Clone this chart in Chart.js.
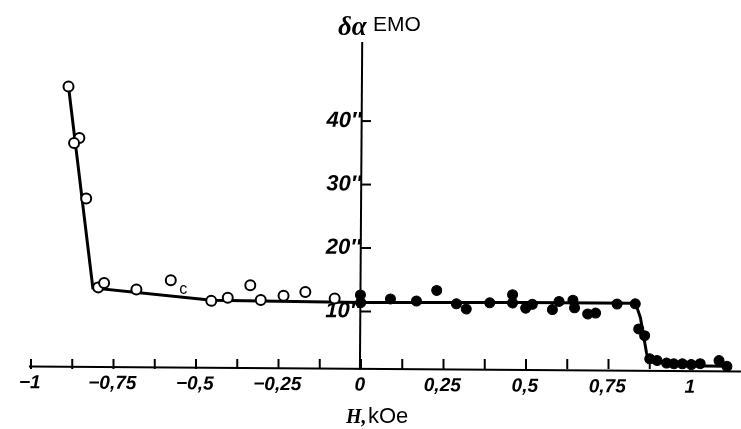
<!DOCTYPE html>
<html>
<head>
<meta charset="utf-8">
<script src="https://cdn.jsdelivr.net/npm/chart.js@4.4.1/dist/chart.umd.min.js"></script>
<style>
  html, body { margin: 0; padding: 0; background: #fff; overflow: hidden; }
  #wrap { width: 741px; height: 429px; }
</style>
</head>
<body>
<div id="wrap"><canvas id="emoChart" width="741" height="429"></canvas></div>
<script>
// open circles (negative field side)
const openH = [-0.889, -0.855, -0.871, -0.833, -0.795, -0.777, -0.679, -0.575, -0.452, -0.402, -0.334, -0.302, -0.233, -0.167, -0.078];
const openDelta = [45.1, 37.0, 36.2, 27.5, 13.5, 14.2, 13.2, 14.7, 11.5, 12.0, 14.0, 11.7, 12.4, 13.0, 12.0];

// filled circles (positive field side)
const filledH = [0.0, 0.001, 0.091, 0.170, 0.231, 0.291, 0.321, 0.392, 0.461, 0.461, 0.501, 0.521, 0.582, 0.602, 0.644, 0.649, 0.689, 0.713, 0.778, 0.833, 0.844, 0.862, 0.878, 0.900, 0.929, 0.951, 0.977, 1.004, 1.031, 1.088, 1.112];
const filledDelta = [12.6, 11.4, 12.0, 11.7, 13.4, 11.3, 10.5, 11.5, 12.8, 11.5, 10.7, 11.3, 10.5, 11.8, 12.0, 10.8, 9.85, 10.0, 11.45, 11.5, 7.55, 6.5, 2.85, 2.6, 2.2, 2.1, 2.1, 2.0, 2.15, 2.65, 1.75];

// drawn curve
const curveH = [-0.889, -0.811, -0.45, 0, 0.5, 0.83, 0.837, 0.849, 0.859, 0.868, 0.874, 0.908, 0.989, 1.11];
const curveDelta = [45.1, 13.4, 11.6, 11.4, 11.6, 11.6, 11.1, 9.3, 6.4, 3.8, 2.7, 2.5, 1.8, 1.75];

// axis ticks
const hTicks = [-1, -0.75, -0.5, -0.25, 0, 0.25, 0.5, 0.75, 1];
const hTickMarks = [-1, -0.875, -0.75, -0.625, -0.5, -0.375, -0.25, -0.125, 0, 0.125, 0.25, 0.375, 0.5, 0.625, 0.75, 0.875, 1];
const deltaTicks = [10, 20, 30, 40];

const toXY = (xs, ys) => xs.map((v, i) => ({ x: v, y: ys[i] }));

const xTickFont = { family: '"Liberation Sans", Arial, sans-serif', size: 19, style: 'italic', weight: 'bold' };
const yTickFont = { family: '"Liberation Sans", Arial, sans-serif', size: 22, style: 'italic', weight: 'bold' };

// the scanned figure is tilted a little, turn the whole drawing with it
const tilt = {
  id: 'tilt',
  beforeDraw(chart) {
    const { ctx, width, height } = chart;
    ctx.save();
    ctx.translate(width / 2, height / 2);
    ctx.rotate(0.4 * Math.PI / 180);
    ctx.translate(-width / 2, -height / 2);
  },
  afterDraw(chart) {
    chart.ctx.restore();
  }
};

// tick marks go inwards (up / right), plus the free-standing labels
const decor = {
  id: 'decor',
  afterDraw(chart) {
    const { ctx, scales: { x, y } } = chart;
    const yAxis = chart.chartArea.bottom;
    const x0 = x.getPixelForValue(0);
    ctx.save();
    ctx.strokeStyle = '#000';
    ctx.lineWidth = 2;
    hTickMarks.forEach(v => {
      const px = x.getPixelForValue(v);
      ctx.beginPath();
      ctx.moveTo(px, yAxis);
      ctx.lineTo(px, yAxis - 10);
      ctx.stroke();
    });
    deltaTicks.forEach(v => {
      const py = y.getPixelForValue(v);
      ctx.beginPath();
      ctx.moveTo(x0, py);
      ctx.lineTo(x0 + 10, py);
      ctx.stroke();
    });

    ctx.fillStyle = '#000';
    ctx.textBaseline = 'alphabetic';
    ctx.textAlign = 'left';
    // y axis title
    ctx.font = 'italic bold 27px "Liberation Serif", serif';
    ctx.fillText('δα', x0 - 23, 35);
    ctx.font = '21px "Liberation Sans", Arial, sans-serif';
    ctx.fillText('EMO', x0 + 12, 31);
    // x axis title
    ctx.font = 'italic bold 20px "Liberation Serif", serif';
    ctx.fillText('H,', x0 - 15, 423);
    ctx.font = '22px "Liberation Sans", Arial, sans-serif';
    ctx.fillText('kOe', x0 + 7, 423);
    // marker "c" beside one open point
    ctx.font = '16px "Liberation Sans", Arial, sans-serif';
    ctx.fillText('c', x.getPixelForValue(openH[7]) + 8, y.getPixelForValue(openDelta[7]) + 12);
    ctx.restore();
  }
};

const ctx = document.getElementById('emoChart').getContext('2d');
const emoChart = new Chart(ctx, {
  type: 'scatter',
  data: {
    datasets: [
      {
        label: 'open',
        data: toXY(openH, openDelta),
        pointRadius: 5,
        pointBackgroundColor: '#fff',
        pointBorderColor: '#000',
        pointBorderWidth: 2,
        clip: false,
        order: 1
      },
      {
        label: 'filled',
        data: toXY(filledH, filledDelta),
        pointRadius: 5,
        pointBackgroundColor: '#000',
        pointBorderColor: '#000',
        pointBorderWidth: 1,
        clip: false,
        order: 1
      },
      {
        type: 'line',
        label: 'curve',
        data: toXY(curveH, curveDelta),
        borderColor: '#000',
        borderWidth: 3,
        pointRadius: 0,
        tension: 0,
        fill: false,
        clip: false,
        order: 2
      }
    ]
  },
  options: {
    responsive: false,
    animation: false,
    layout: { autoPadding: false, padding: { left: 31, right: 0, top: 43, bottom: 0 } },
    scales: {
      x: {
        type: 'linear',
        min: -1,
        max: 1.1515,
        afterBuildTicks: s => { s.ticks = hTicks.map(v => ({ value: v })); },
        afterFit: s => { s.height = 60; },
        grid: { display: false, drawTicks: false },
        border: { display: true, color: '#000', width: 2 },
        ticks: {
          autoSkip: false,
          maxRotation: 0,
          padding: 5,
          color: '#000',
          font: xTickFont,
          callback: v => (v < 0 ? '\u2212' : '') + String(Math.abs(v)).replace('.', ',')
        }
      },
      y: {
        type: 'linear',
        position: { x: 0 },
        min: 0.94,
        max: 52.3,
        afterBuildTicks: s => { s.ticks = deltaTicks.map(v => ({ value: v })); },
        grid: { display: false, drawTicks: false },
        border: { display: true, color: '#000', width: 2 },
        ticks: {
          padding: 10,
          color: '#000',
          font: yTickFont,
          callback: v => v + '\u2033'
        }
      }
    },
    plugins: {
      legend: { display: false },
      tooltip: { enabled: false }
    }
  },
  plugins: [tilt, decor]
});
</script>
</body>
</html>
